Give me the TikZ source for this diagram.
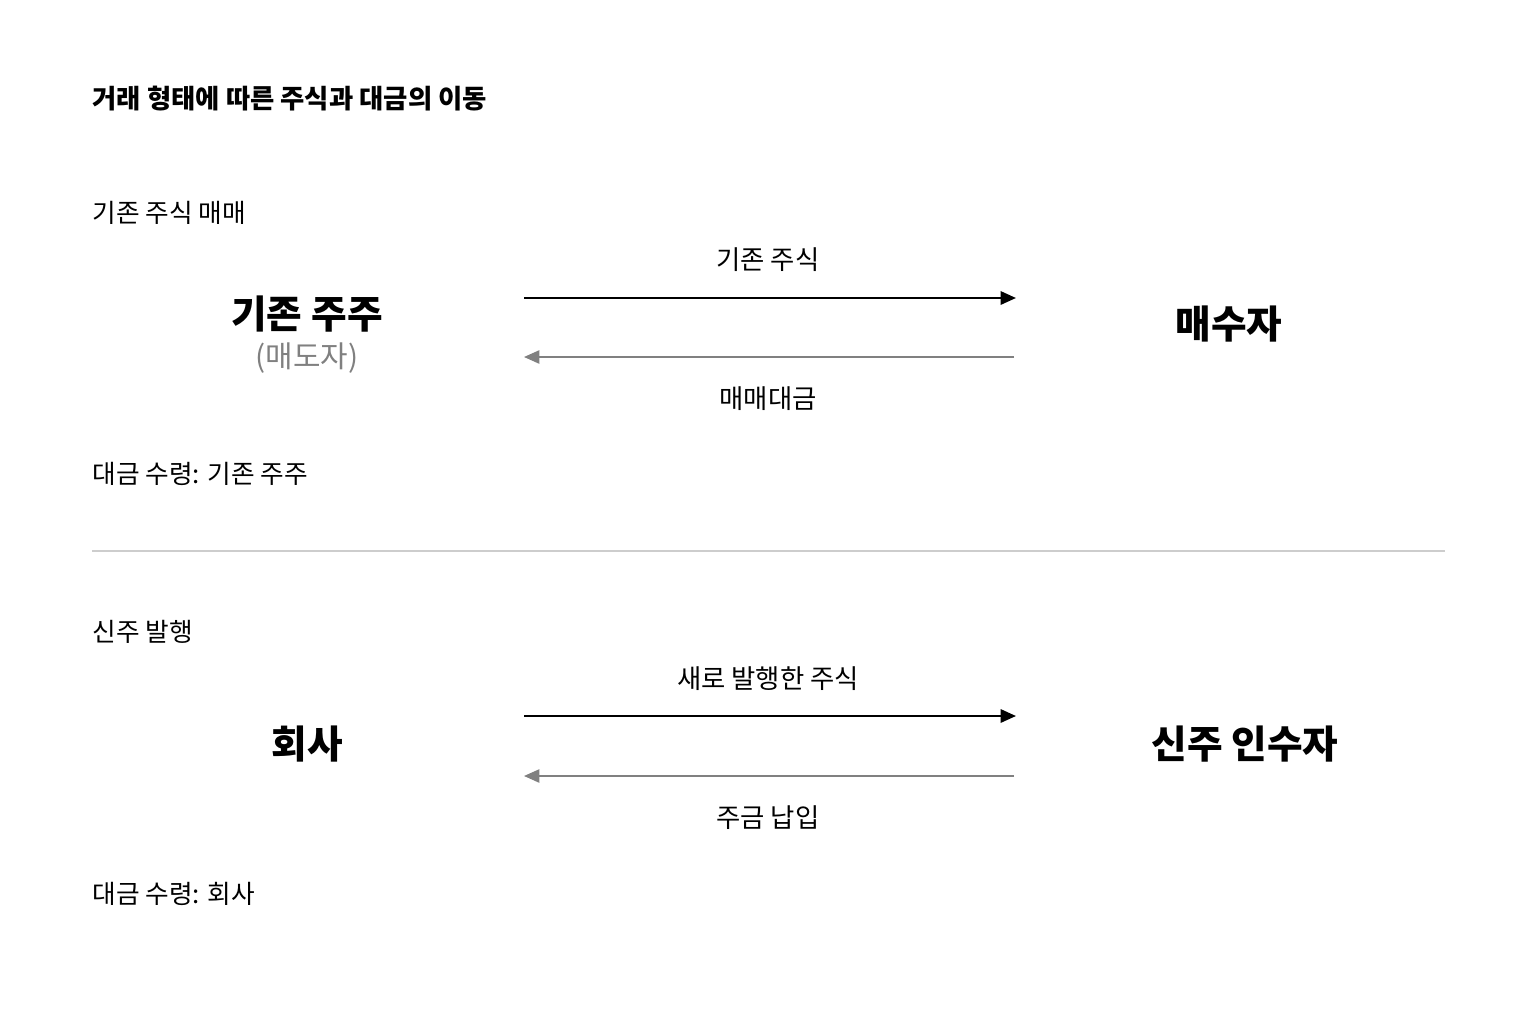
\documentclass[tikz,border=0pt]{standalone}
\usepackage{fontspec}
\setmainfont{Noto Sans CJK KR}
\usetikzlibrary{arrows.meta}
\tikzset{>={Triangle[length=4.4pt,width=3.8pt]}}
\definecolor{flowgray}{RGB}{128,128,128}
\definecolor{rulegray}{RGB}{205,205,205}
\tikzset{
  heading/.style={anchor=west, inner sep=0pt, font=\fontsize{7.5}{9}\selectfont\bfseries},
  caption/.style={anchor=west, inner sep=0pt, font=\fontsize{7.3}{9}\selectfont},
  party/.style={font=\fontsize{11}{13}\selectfont\bfseries},
  sub/.style={text=flowgray, font=\fontsize{8.5}{10}\selectfont},
  flowlabel/.style={font=\fontsize{7.5}{9}\selectfont},
  give/.style={->, line width=0.65pt, black},
  pay/.style={->, line width=0.5pt, flowgray}
}

\begin{document}
\begin{tikzpicture}[x=0.01cm, y=-0.01cm]
    \useasboundingbox (0,0) rectangle (1536,1024);
    \node[heading] (title) at (92,99) {거래 형태에 따른 주식과 대금의 이동};
    % 기존 주식 매매
    \node[caption] (secA) at (92,213) {기존 주식 매매};
    \node[party] (seller) at (307,314) {기존 주주};
    \node[sub] (sellerSub) at (307,358) {(매도자)};
    \node[party] (buyer) at (1229,324) {매수자};
    \coordinate (a1) at (524,298);
    \coordinate (b1) at (1016,298);
    \coordinate (a2) at (524,357);
    \coordinate (b2) at (1014,357);
    \draw[give] (a1) -- (b1);
    \draw[pay] (b2) -- (a2);
    \node[flowlabel] (stockA) at (768,260) {기존 주식};
    \node[flowlabel] (moneyA) at (768,399) {매매대금};
    \node[caption] (recvA) at (92,474) {대금 수령: 기존 주주};
    % divider
    \coordinate (r1) at (92,551);
    \coordinate (r2) at (1445,551);
    \draw[rulegray, line width=0.3pt] (r1) -- (r2);
    % 신주 발행
    \node[caption] (secB) at (92,632) {신주 발행};
    \node[party] (company) at (307,744) {회사};
    \node[party] (subscriber) at (1245,744) {신주 인수자};
    \coordinate (a3) at (524,716);
    \coordinate (b3) at (1016,716);
    \coordinate (a4) at (524,776);
    \coordinate (b4) at (1014,776);
    \draw[give] (a3) -- (b3);
    \draw[pay] (b4) -- (a4);
    \node[flowlabel] (stockB) at (768,679) {새로 발행한 주식};
    \node[flowlabel] (moneyB) at (768,818) {주금 납입};
    \node[caption] (recvB) at (92,894) {대금 수령: 회사};
\end{tikzpicture}
\end{document}
